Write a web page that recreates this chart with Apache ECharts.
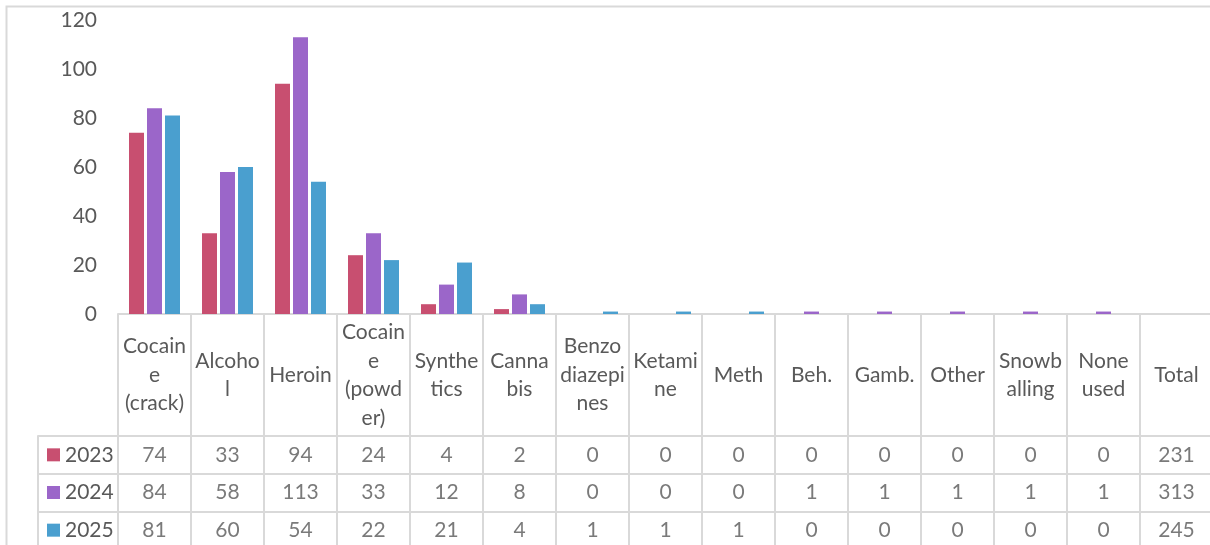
<!DOCTYPE html>
<html>
<head>
<meta charset="utf-8">
<script src="https://cdn.jsdelivr.net/npm/echarts@6/dist/echarts.min.js"></script>
<style>
  html, body { margin: 0; padding: 0; overflow: hidden; background: #ffffff; }
  #chart { width: 1230px; height: 560px; }
</style>
</head>
<body>
<div id="chart"></div>
<script>
// Column headings of the chart / data table (wrapped as they appear in the narrow cells)
const categories = [
  'Cocain\ne\n(crack)', 'Alcoho\nl', 'Heroin', 'Cocain\ne\n(powd\ner)', 'Synthe\ntics',
  'Canna\nbis', 'Benzo\ndiazepi\nnes', 'Ketami\nne', 'Meth', 'Beh.', 'Gamb.', 'Other',
  'Snowb\nalling', 'None\nused', 'Total'
];
const years = ['2023', '2024', '2025'];

// Counts per substance (Total column is listed separately)
const values2023 = [74, 33, 94, 24, 4, 2, 0, 0, 0, 0, 0, 0, 0, 0];
const values2024 = [84, 58, 113, 33, 12, 8, 0, 0, 0, 1, 1, 1, 1, 1];
const values2025 = [81, 60, 54, 22, 21, 4, 1, 1, 1, 0, 0, 0, 0, 0];
const totals = [231, 313, 245];

const yTicks = { min: 0, max: 120, interval: 20 };
const colors = ['#C84F70', '#9B66C9', '#4A9FCF'];

const rows = [values2023, values2024, values2025];
const textColor = '#595959';
const lineColor = '#D9D9D9';
const font = 'Lato, "Open Sans", sans-serif';
const fontSize = 21;

// Bars: zero counts are left empty, the Total column carries no bar
const barData = rows.map(r => r.map(v => (v === 0 ? '-' : v)).concat(['-']));

// Data-table cells: [column, row, value]
const cellData = [];
rows.forEach((r, ri) => {
  r.concat([totals[ri]]).forEach((v, ci) => cellData.push([ci, ri, v]));
});

const chart = echarts.init(document.getElementById('chart'), null, { renderer: 'canvas' });

chart.setOption({
  animation: false,
  backgroundColor: '#ffffff',
  textStyle: { fontFamily: font },
  graphic: [{
    type: 'rect',
    shape: { x: 6.5, y: 6.5, width: 1400, height: 800 },
    style: { fill: 'none', stroke: lineColor, lineWidth: 2 },
    silent: true
  }],
  grid: [
    { left: 118, top: 20, height: 294, width: 1095 },
    { left: 118, top: 436, height: 113, width: 1095 }
  ],
  xAxis: [
    {
      type: 'category', gridIndex: 0, data: categories,
      axisLine: { show: true, lineStyle: { color: lineColor, width: 2 } },
      axisTick: { show: true, interval: 0, length: 235, lineStyle: { color: lineColor, width: 2 } },
      axisLabel: {
        interval: 0, margin: 61, verticalAlign: 'middle', align: 'center',
        color: textColor, fontSize: fontSize, lineHeight: 28.5, fontFamily: font
      }
    },
    {
      type: 'category', gridIndex: 1, data: categories,
      axisLine: { show: false }, axisTick: { show: false }, axisLabel: { show: false },
      splitLine: { show: false }
    }
  ],
  yAxis: [
    {
      type: 'value', gridIndex: 0, min: yTicks.min, max: yTicks.max, interval: yTicks.interval,
      axisLine: { show: false }, axisTick: { show: false }, splitLine: { show: false },
      axisLabel: { color: textColor, fontSize: fontSize, margin: 21, fontFamily: font }
    },
    {
      type: 'category', gridIndex: 1, data: years, inverse: true,
      axisLine: { show: false },
      axisTick: { show: true, length: 80, lineStyle: { color: lineColor, width: 2 } },
      splitLine: { show: true, lineStyle: { color: lineColor, width: 2 } },
      axisLabel: {
        align: 'left', margin: 71, color: textColor, fontSize: fontSize, fontFamily: font,
        formatter: (val, idx) => '{k' + idx + '|}{t|' + val + '}',
        rich: {
          k0: { width: 13, height: 13, backgroundColor: colors[0] },
          k1: { width: 13, height: 13, backgroundColor: colors[1] },
          k2: { width: 13, height: 13, backgroundColor: colors[2] },
          t: { color: textColor, fontSize: fontSize, fontFamily: font, padding: [0, 0, 0, 5] }
        }
      }
    },
    {
      type: 'category', gridIndex: 1, data: years, inverse: true, offset: 80, position: 'left',
      axisLine: { show: true, lineStyle: { color: lineColor, width: 2 } },
      axisTick: { show: false }, axisLabel: { show: false }, splitLine: { show: false }
    }
  ],
  series: [
    ...years.map((y, i) => ({
      name: y, type: 'bar', xAxisIndex: 0, yAxisIndex: 0,
      data: barData[i], barWidth: 15, barGap: '20%',
      itemStyle: { color: colors[i] }
    })),
    {
      type: 'scatter', xAxisIndex: 1, yAxisIndex: 1,
      data: cellData, symbolSize: 1,
      itemStyle: { color: 'rgba(0,0,0,0)' },
      label: {
        show: true, position: 'inside', color: textColor, fontSize: fontSize, fontFamily: font,
        formatter: p => String(p.value[2])
      },
      silent: true
    }
  ]
});
</script>
</body>
</html>
